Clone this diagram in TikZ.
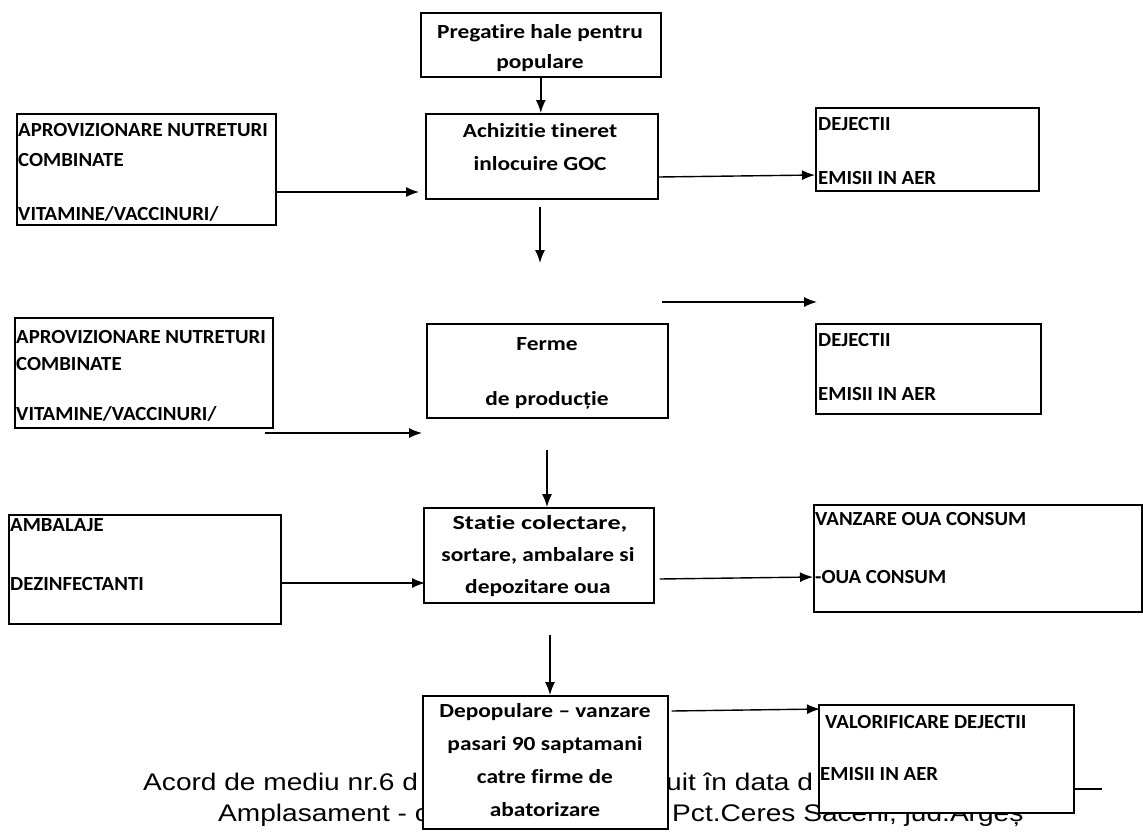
\documentclass[tikz,border=0pt]{standalone}
\usepackage{fontspec}
\setmainfont{Carlito}[Ligatures=NoCommon]
\newfontfamily\footfont{Liberation Sans}
\usetikzlibrary{arrows.meta}
\newcommand\mkbox[5]{\node[box, anchor=north west, minimum width={#4-#2}, minimum height={#5-#3}] (#1) at (#2,#3) {};}
\begin{document}
\begin{tikzpicture}[x=1pt,y=-1pt,
  box/.style={draw, line width=1.6pt, fill=white, inner sep=0},
  lbl/.style={inner sep=0, font=\bfseries\fontsize{20}{24}\selectfont},
  lw/.style={lbl, anchor=base west, xscale=1.04},
  lc/.style={lbl, anchor=base, xscale=1.17},
  foot/.style={inner sep=0, anchor=base west, font=\footfont\fontsize{24}{28}\selectfont, xscale=1.17},
  arr/.style={line width=1.4pt, -{Latex[length=13pt,width=10pt]}}]
\useasboundingbox[fill=white] (0,0) rectangle (1143,833);

% footer text (partly hidden by boxes)
\node[foot] (f1) at (143,790) {Acord de mediu nr.6 d};
\node[foot] (f2) at (666,790) {uit în data d};
\node[foot] (f3) at (218,821) {Amplasament - c};
\node[foot] (f4) at (672,821) {Pct.Ceres Săceni, jud.Argeș};

% boxes
\mkbox{pre}{420}{12}{660}{76}
\mkbox{ach}{425}{113}{657}{198}
\mkbox{L1}{16}{113}{275}{224}
\mkbox{R1}{815}{107}{1038}{190}
\mkbox{L2}{14}{317}{272}{427}
\mkbox{ferme}{426}{323}{667}{417}
\mkbox{R2}{815}{323}{1040}{413}
\mkbox{L3}{8}{514}{280}{623}
\mkbox{statie}{423}{507}{653}{602}
\mkbox{R3}{813}{504}{1141}{611}
\mkbox{depop}{422}{695}{667}{828}
\mkbox{valor}{818}{704}{1073}{812}

% centre texts
\node[lc] (pre1) at (540,38) {Pregatire hale pentru};
\node[lc] (pre2) at (540,68) {populare};
\node[lc] (ach1) at (540,137) {Achizitie tineret};
\node[lc] (ach2) at (540,170) {inlocuire GOC};
\node[lc] (fer1) at (547,350) {Ferme};
\node[lc] (fer2) at (547,405) {de producție};
\node[lc, xscale=1.12] (sta1) at (540,529) {Statie colectare,};
\node[lc] (sta2) at (538,561) {sortare, ambalare si};
\node[lc] (sta3) at (538,593) {depozitare oua};
\node[lc] (dep1) at (545,717) {Depopulare – vanzare};
\node[lc] (dep2) at (545,750) {pasari 90 saptamani};
\node[lc] (dep3) at (545,783) {catre firme de};
\node[lc] (dep4) at (545,816) {abatorizare};

% left texts
\node[lw] (l11) at (18,136) {APROVIZIONARE NUTRETURI};
\node[lw] (l12) at (18,166) {COMBINATE};
\node[lw] (l13) at (18,220) {VITAMINE/VACCINURI/};
\node[lw] (l21) at (16,343) {APROVIZIONARE NUTRETURI};
\node[lw] (l22) at (16,370) {COMBINATE};
\node[lw] (l23) at (16,420) {VITAMINE/VACCINURI/};
\node[lw] (l31) at (10,531) {AMBALAJE};
\node[lw] (l32) at (10,590) {DEZINFECTANTI};

% right texts
\node[lw] (r11) at (818,130) {DEJECTII};
\node[lw] (r12) at (818,184) {EMISII IN AER};
\node[lw] (r21) at (818,346) {DEJECTII};
\node[lw] (r22) at (818,400) {EMISII IN AER};
\node[lw] (r31) at (815,525) {VANZARE OUA CONSUM};
\node[lw] (r32) at (815,583) {-OUA CONSUM};
\node[lw] (v1) at (825,728) {VALORIFICARE DEJECTII};
\node[lw] (v2) at (820,780) {EMISII IN AER};

% free ends
\coordinate (a1) at (419,192);
\coordinate (d1s) at (540,207);
\coordinate (d1e) at (540,263);
\coordinate (m1s) at (662,302);
\coordinate (m1e) at (817,302);
\coordinate (m2s) at (265,433);
\coordinate (m2e) at (422,433);
\coordinate (d2s) at (547,450);
\coordinate (a3) at (425,583);
\coordinate (d3s) at (550,635);
\coordinate (a5) at (820,709);

% connectors
\draw[arr] (pre.south) -- (pre.south |- ach.north);
\draw[arr] (L1.east |- a1) -- (a1);
\draw[arr] (ach.east |- 0,177) -- (R1.west |- 0,175);
\draw[arr] (d1s) -- (d1e);
\draw[arr] (m1s) -- (m1e);
\draw[arr] (m2s) -- (m2e);
\draw[arr] (d2s) -- (d2s |- statie.north);
\draw[arr] (L3.east |- a3) -- (a3);
\draw[arr] ([xshift=5pt]statie.east |- 0,579) -- (R3.west |- 0,577);
\draw[arr] (d3s) -- (d3s |- depop.north);
\draw[arr] ([xshift=3pt]depop.east |- 0,711) -- (a5);
\draw[line width=1.4pt] (valor.east |- 0,789) -- (1102,789);
\end{tikzpicture}
\end{document}
